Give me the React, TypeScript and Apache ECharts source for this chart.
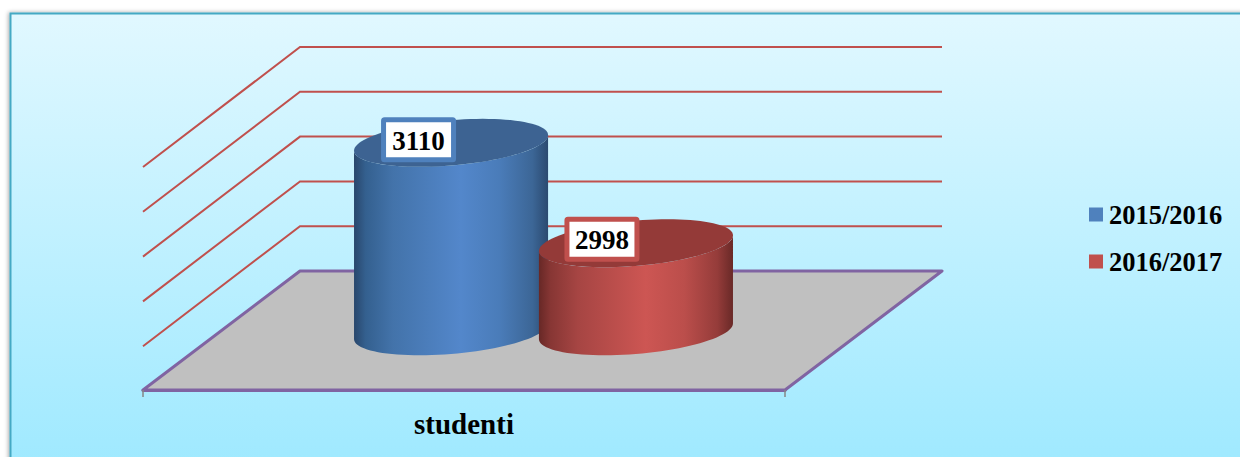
import React, { useEffect, useRef } from "react";
import * as echarts from "echarts";

const categories = ["studenti"];
const seriesNames = ["2015/2016", "2016/2017"];
const values2015 = [3110];
const values2016 = [2998];
const wallTicks = [2950, 3000, 3050, 3100, 3150];
const floorValue = [2900];

const DEPTH_X = 157;
const DEPTH_Y = -119;
const SERIF = '"Liberation Serif", "Times New Roman", serif';

const blueBody = [
  [0, "#29476c"], [0.06, "#34608f"], [0.2, "#4373aa"], [0.55, "#5387cb"], [0.75, "#4a7cb9"], [0.92, "#3c6696"], [1, "#2b4a70"],
];
const redBody = [
  [0, "#672826"], [0.06, "#873634"], [0.2, "#a64543"], [0.55, "#cd5653"], [0.75, "#bb4e4b"], [0.92, "#953c3a"], [1, "#692927"],
];

function grad(stops: any[]) {
  return new echarts.graphic.LinearGradient(0, 0, 1, 0, stops.map(([offset, color]) => ({ offset, color })));
}

function ellipsePoints(cx: number, cy: number, from: number, to: number, n = 48) {
  const ux = 91.7, vx = 31.7, vy = -24;
  const pts: number[][] = [];
  for (let i = 0; i <= n; i++) {
    const t = from + ((to - from) * i) / n;
    pts.push([cx + ux * Math.cos(t) + vx * Math.sin(t), cy + vy * Math.sin(t)]);
  }
  return pts;
}

function cylinder(offsetSign: number, bodyStops: any[], topColor: string, borderColor: string, labelDx: number, labelDy: number) {
  return (params: any, api: any) => {
    const band = api.size([1, 0])[0];
    const value = api.value(1);
    const top = api.coord([api.value(0), value]);
    const base = api.coord([api.value(0), floorValue[0]]);
    const cx = top[0] + DEPTH_X / 2 + 1 + (offsetSign * band * 0.144);
    const topY = top[1] + DEPTH_Y / 2 + 0.5;
    const baseY = base[1] + DEPTH_Y / 2 + 0.8;
    // tangent parameters of the projected ellipse (left / right silhouette)
    const tR = Math.atan2(31.7, 91.7);
    const tL = tR + Math.PI;
    const frontBase = ellipsePoints(cx, baseY, tL, tR + 2 * Math.PI);
    const frontTop = ellipsePoints(cx, topY, tR + 2 * Math.PI, tL);
    const lx = cx + labelDx;
    const ly = topY + labelDy;
    return {
      type: "group",
      children: [
        { type: "polygon", shape: { points: [...frontBase, ...frontTop] }, style: { fill: grad(bodyStops) } },
        { type: "polygon", shape: { points: ellipsePoints(cx, topY, 0, 2 * Math.PI, 96) }, style: { fill: topColor } },
        {
          type: "rect",
          shape: { x: lx - 35, y: ly - 20, width: 70, height: 40, r: 1 },
          style: { fill: "#ffffff", stroke: borderColor, lineWidth: 5, lineJoin: "round" },
        },
        {
          type: "text",
          x: lx,
          y: ly + 1,
          style: {
            text: String(value),
            fill: "#000000",
            font: `bold 27px ${SERIF}`,
            textAlign: "center",
            textVerticalAlign: "middle",
          },
        },
      ],
    };
  };
}

export default function App() {
  const ref = useRef<HTMLDivElement>(null);
  useEffect(() => {
    document.body.style.margin = "0";
    const chart = echarts.init(ref.current!, null, { renderer: "svg" });
    chart.setOption({
      animation: false,
      graphic: [
        {
          type: "rect",
          z: -10,
          silent: true,
          shape: { x: 10.5, y: 13.5, width: 1240, height: 460 },
          style: {
            fill: new echarts.graphic.LinearGradient(0, 0, 0, 1, [
              { offset: 0, color: "#e1f8ff" },
              { offset: 1, color: "#9ee9ff" },
            ]),
            stroke: "#45a9c4",
            lineWidth: 2,
            shadowBlur: 4,
            shadowColor: "rgba(0,0,0,0.35)",
            shadowOffsetX: -1,
          },
        },
      ],
      grid: { left: 143, top: 166, width: 642, height: 224 },
      legend: {
        show: true,
        orient: "vertical",
        left: 1084,
        top: 196,
        itemWidth: 14,
        itemHeight: 14,
        itemGap: 20,
        icon: "rect",
        data: seriesNames,
        textStyle: { color: "#000000", fontFamily: SERIF, fontWeight: "bold", fontSize: 26.5, padding: [0, 0, 0, 1] },
      },
      xAxis: {
        type: "category",
        data: categories,
        axisLine: { show: true, lineStyle: { color: "#8064a2", width: 3 } },
        axisTick: { show: true, length: 7, lineStyle: { color: "#868686", width: 1.5 } },
        axisLabel: { color: "#000000", fontFamily: SERIF, fontWeight: "bold", fontSize: 29, margin: 19 },
        z: 3,
      },
      yAxis: { type: "value", min: 2900, max: 3150, interval: 50, show: false, splitLine: { show: false } },
      series: [
        {
          type: "custom",
          name: "walls",
          silent: true,
          data: wallTicks.map((v) => [0, v]),
          encode: { x: 0, y: 1 },
          z: 1,
          renderItem: (params: any, api: any) => {
            const p = api.coord([0, api.value(1)]);
            const band = api.size([1, 0])[0];
            const x0 = p[0] - band / 2;
            return {
              type: "polyline",
              shape: {
                points: [
                  [x0, p[1] + 1],
                  [x0 + DEPTH_X, p[1] + DEPTH_Y],
                  [x0 + DEPTH_X + band, p[1] + DEPTH_Y],
                ],
              },
              style: { stroke: "#c0504d", lineWidth: 2, fill: "none" },
            };
          },
        },
        {
          type: "custom",
          name: "floor",
          silent: true,
          data: floorValue.map((v) => [0, v]),
          encode: { x: 0, y: 1 },
          z: 2,
          renderItem: (params: any, api: any) => {
            const p = api.coord([0, api.value(1)]);
            const band = api.size([1, 0])[0];
            const x0 = p[0] - band / 2;
            return {
              type: "polygon",
              shape: {
                points: [
                  [x0, p[1]],
                  [x0 + band, p[1]],
                  [x0 + band + DEPTH_X, p[1] + DEPTH_Y],
                  [x0 + DEPTH_X, p[1] + DEPTH_Y],
                ],
              },
              style: { fill: "#c0c0c0", stroke: "#8064a2", lineWidth: 3, lineJoin: "round" },
            };
          },
        },
        {
          type: "custom",
          name: seriesNames[0],
          data: values2015.map((v, i) => [i, v]),
          encode: { x: 0, y: 1 },
          itemStyle: { color: "#4f81bd" },
          z: 4,
          renderItem: cylinder(-1, blueBody, "#3d6392", "#4f81bd", -32.5, -3),
        },
        {
          type: "custom",
          name: seriesNames[1],
          data: values2016.map((v, i) => [i, v]),
          encode: { x: 0, y: 1 },
          itemStyle: { color: "#c0504d" },
          z: 5,
          renderItem: cylinder(1, redBody, "#943a38", "#c0504d", -34, -4),
        },
      ],
    });
    return () => chart.dispose();
  }, []);
  return <div ref={ref} style={{ position: "absolute", left: 0, top: 0, width: 1240, height: 457 }} />;
}
